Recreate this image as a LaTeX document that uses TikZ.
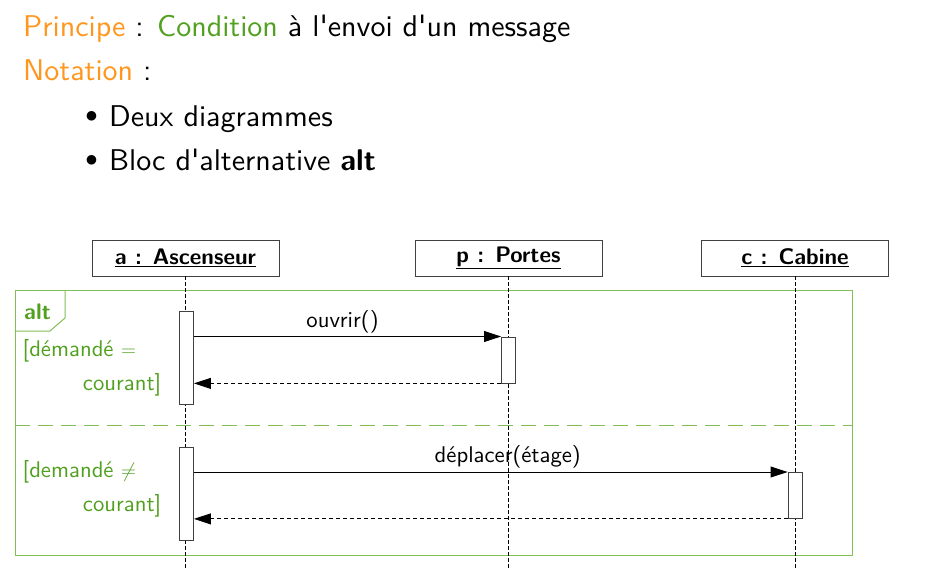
\documentclass[tikz,border=0pt]{standalone}
\usepackage{fontspec}
\setsansfont{lmsans10-regular.otf}[BoldFont=lmsans10-bold.otf, Ligatures=TeXOff]
\usetikzlibrary{arrows.meta}
\definecolor{myorange}{RGB}{255,150,30}
\definecolor{mygreen}{RGB}{82,160,32}
\definecolor{framegreen}{RGB}{130,190,85}
\begin{document}
\begin{tikzpicture}[x=1pt,y=-1pt,
  title/.style={anchor=base west, inner sep=0, font=\sffamily\fontsize{30}{36}\selectfont},
  obj/.style={draw=black!75, line width=0.9pt, minimum width=187pt, minimum height=36pt, inner sep=0, font=\sffamily\bfseries\fontsize{22.5}{26}\selectfont},
  act/.style={draw=black!75, fill=white, line width=0.9pt, minimum width=14pt, inner sep=0, anchor=north},
  life/.style={dash pattern=on 3.5pt off 2.5pt, line width=0.8pt},
  msg/.style={line width=0.9pt, -{Triangle[length=17pt,width=11pt]}},
  ret/.style={msg, dash pattern=on 4pt off 3pt},
  lbl/.style={inner sep=0, font=\sffamily\fontsize{22.7}{26}\selectfont},
  guard/.style={inner sep=0, text=mygreen, font=\sffamily\fontsize{22.7}{26}\selectfont},
  frm/.style={draw=framegreen, line width=1pt}]
\useasboundingbox (0,0) rectangle (950,588);

% title text
\node[title] (t1) at (23,36.5) {\textcolor{myorange}{Principe} : \textcolor{mygreen}{Condition} à l'envoi d'un message};
\node[title] (t2) at (23,80.5) {\textcolor{myorange}{Notation} :};
\node[title, anchor=base] (b1) at (91.5,126.5) {\raisebox{4pt}{$\bullet$}};
\node[title] (t3) at (109,126.5) {Deux diagrammes};
\node[title, anchor=base] (b2) at (91.5,171) {\raisebox{4pt}{$\bullet$}};
\node[title] (t4) at (109,171) {Bloc d'alternative \textbf{alt}};

% frame
\node[frm, anchor=north west, minimum width=837.5pt, minimum height=264.5pt, inner sep=0] (frame) at (14.5,290) {};
\draw[frm] (65,290) -- (65,318) -- (50,331) -- (14.5,331);
\node[inner sep=0, anchor=base west, text=mygreen, font=\sffamily\bfseries\fontsize{22.5}{26}\selectfont] (alt) at (24,319.5) {alt};
\draw[frm, dash pattern=on 15pt off 8pt] (frame.west |- 0,425) coordinate (s1) -- (frame.east |- 0,425) coordinate (s2);

% objects
\node[obj] (ha) at (185.5,258) {\underline{a : Ascenseur}};
\node[obj] (hp) at (508.5,258) {\underline{p : Portes}};
\node[obj] (hc) at (795,258) {\underline{c : Cabine}};
\path (ha.south) ++(0,292) coordinate (ea);
\path (hp.south) ++(0,292) coordinate (ep);
\path (hc.south) ++(0,292) coordinate (ec);
\draw[life] (ha.south) -- (ea);
\draw[life] (hp.south) -- (ep);
\draw[life] (hc.south) -- (ec);

% activations
\node[act, minimum height=93pt] (a1) at (186.5,311) {};
\node[act, minimum height=93pt] (a2) at (186.5,447) {};
\node[act, minimum height=46pt] (p1) at (508.5,336.5) {};
\node[act, minimum height=46pt] (c1) at (795,472) {};

% guards
\node[guard, anchor=base west] (g1) at (22.5,356.5) {[démandé $=$};
\node[guard, anchor=base east] (g2) at (161.5,390) {courant]};
\node[guard, anchor=base west] (g3) at (22.5,477) {[demandé $\neq$};
\node[guard, anchor=base east] (g4) at (161.5,511) {courant]};

% messages
\draw[msg] (a1.east |- p1.north) -- node[lbl, midway, above=3pt, xshift=-5pt] (m1) {ouvrir()} (p1.north west);
\draw[ret] (p1.south west) -- (a1.east |- p1.south);
\draw[msg] (a2.east |- c1.north) -- node[lbl, midway, above=3.5pt, xshift=17pt] (m2) {déplacer(étage)} (c1.north west);
\draw[ret] (c1.south west) -- (a2.east |- c1.south);
\end{tikzpicture}
\end{document}
